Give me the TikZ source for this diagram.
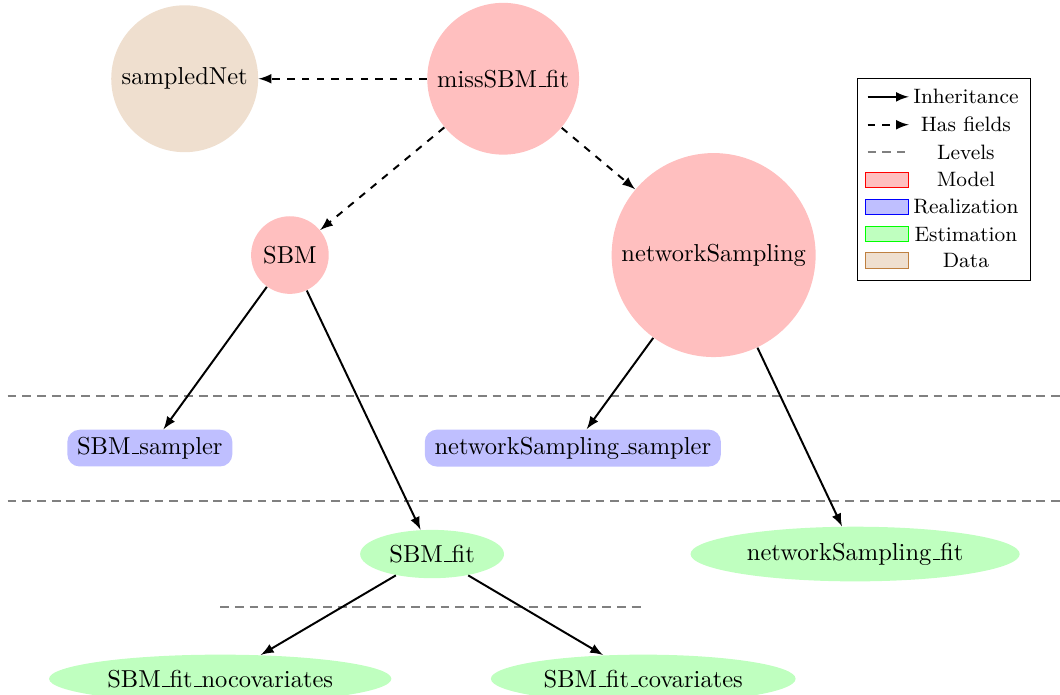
\documentclass[tikz,border=0pt]{standalone}
\usepackage{tikz}
\usetikzlibrary{shapes.geometric,arrows}
\newcommand{\us}{\leavevmode\kern.06em\vbox{\hrule width .3em}}

\begin{document}
\begin{tikzpicture}[
    model/.style={circle, fill=red!25},
    realiz/.style={rectangle, rounded corners=5pt, fill=blue!25, inner xsep=4pt, inner ysep=3pt},
    estim/.style={ellipse, fill=green!25},
    data/.style={circle, fill=brown!25},
    inherit/.style={thick, -latex},
    hasfield/.style={thick, dashed, -latex},
    level/.style={gray, semithick, dash pattern=on 3.6pt off 2.4pt},
    swatch/.style={minimum width=0.62cm, minimum height=0.22cm, inner sep=0pt},
    legtext/.style={font=\fontsize{8.5}{10}\selectfont}
  ]
  \useasboundingbox (0,0) rectangle (15.21,-9.97);
  % Define nodes
  \node[data]  (net)  at (2.65,-1.13)  {sampledNet};
  \node[model] (fit)  at (7.22,-1.13)  {missSBM\us fit};
  \node[model] (sbm)  at (4.16,-3.66)  {SBM};
  \node[model] (samp) at (10.24,-3.66) {networkSampling};
  \node[realiz] (sbmsim)  at (2.15,-6.43) {SBM\us sampler};
  \node[realiz] (sampsim) at (8.22,-6.43) {networkSampling\us sampler};
  \node[estim] (sbmfit)  at (6.20,-7.95)  {SBM\us fit};
  \node[estim] (sampfit) at (12.27,-7.95) {networkSampling\us fit};
  \node[estim] (nocov) at (3.16,-9.74) {SBM\us fit\us nocovariates};
  \node[estim] (cov)   at (9.23,-9.74) {SBM\us fit\us covariates};
  % Levels
  \draw[level] (0.11,-5.68) -- (15.21,-5.68);
  \draw[level] (0.11,-7.19) -- (15.21,-7.19);
  \draw[level] (3.16,-8.71) -- (9.25,-8.71);
  % Connect nodes
  \draw[hasfield] (fit) -- (net);
  \draw[hasfield] (fit) -- (sbm);
  \draw[hasfield] (fit) -- (samp);
  \draw[inherit] (sbm) -- (sbmsim);
  \draw[inherit] (sbm) -- (sbmfit);
  \draw[inherit] (samp) -- (sampsim);
  \draw[inherit] (samp) -- (sampfit);
  \draw[inherit] (sbmfit) -- (nocov);
  \draw[inherit] (sbmfit) -- (cov);
  % Legend
  \draw (12.31,-1.13) rectangle (14.79,-4.03);
  \coordinate (a1) at (12.45,-1.39); \coordinate (a2) at (13.04,-1.39);
  \coordinate (b1) at (12.45,-1.79); \coordinate (b2) at (13.04,-1.79);
  \coordinate (c1) at (12.45,-2.18); \coordinate (c2) at (12.99,-2.18);
  \draw[inherit] (a1) -- (a2);
  \draw[hasfield] (b1) -- (b2);
  \draw[level] (c1) -- (c2);
  \node[legtext] at (13.86,-1.39) {Inheritance};
  \node[legtext] at (13.86,-1.79) {Has fields};
  \node[legtext] at (13.86,-2.18) {Levels};
  \node[swatch, draw=red, fill=red!25]       (m) at (12.73,-2.58) {};
  \node[swatch, draw=blue, fill=blue!25]     (r) at (12.73,-2.97) {};
  \node[swatch, draw=green, fill=green!25]   (e) at (12.73,-3.36) {};
  \node[swatch, draw=brown, fill=brown!25]   (d) at (12.73,-3.74) {};
  \node[legtext] at (13.86,-2.58) {Model};
  \node[legtext] at (13.86,-2.97) {Realization};
  \node[legtext] at (13.86,-3.36) {Estimation};
  \node[legtext] at (13.86,-3.74) {Data};
\end{tikzpicture}
\end{document}
